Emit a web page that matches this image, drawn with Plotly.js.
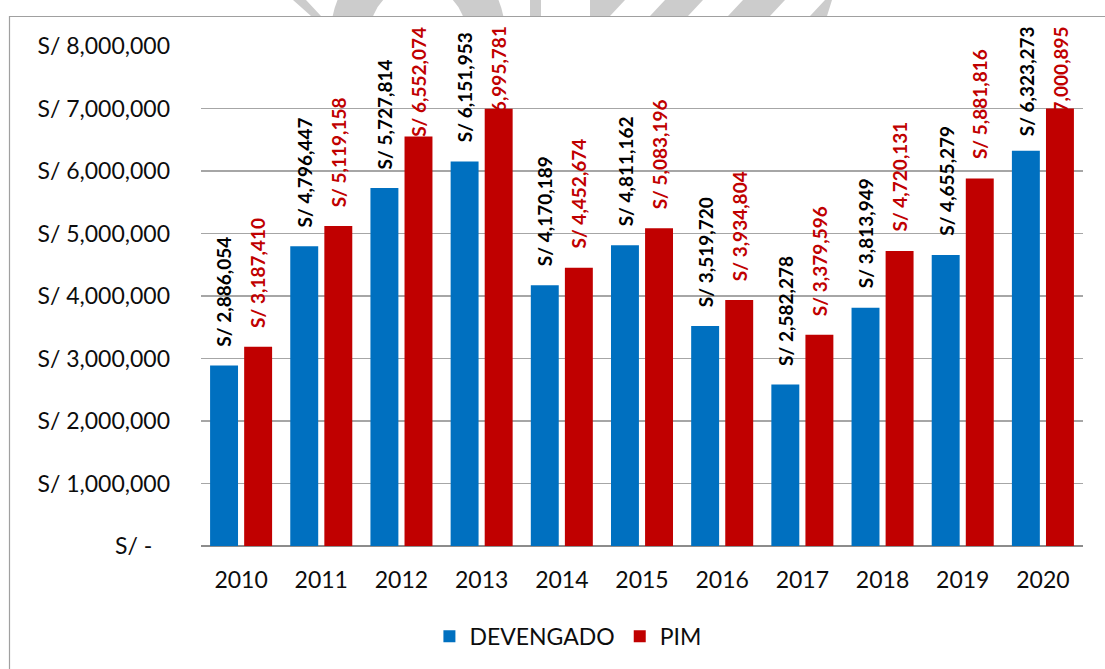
<!DOCTYPE html>
<html>
<head>
<meta charset="utf-8">
<script src="https://cdn.plot.ly/plotly-3.0.1.min.js"></script>
<style>
  html, body { margin: 0; padding: 0; background: #ffffff; }
  #wrap { position: relative; width: 1105px; height: 669px; overflow: hidden; }
  #deco { position: absolute; left: 0; top: 0; }
  #chart { position: absolute; left: 0; top: 0; width: 1105px; height: 669px; }
</style>
</head>
<body>
<div id="wrap">
  <svg id="deco" width="1105" height="669" xmlns="http://www.w3.org/2000/svg">
    <defs>
      <clipPath id="topclip"><rect x="0" y="0" width="1105" height="16"/></clipPath>
    </defs>
    <g clip-path="url(#topclip)" fill="#cccccc">
      <polygon points="293,0 306,0 321,16 311,16"/>
      <path fill-rule="evenodd" d="M 331,33 a 87,87 0 1,0 174,0 a 87,87 0 1,0 -174,0 Z M 370,33 a 48,48 0 1,0 96,0 a 48,48 0 1,0 -96,0 Z"/>
      <rect x="530" y="0" width="11" height="16"/>
      <polygon points="590,0 625,0 610,16 590,16"/>
      <polygon points="665,0 703,0 688,16 650,16"/>
      <polygon points="743,0 785,0 770,16 728,16"/>
      <polygon points="825,0 832,0 827,16 810,16"/>
    </g>
    <line x1="9" y1="16.5" x2="1105" y2="16.5" stroke="#a0a0a0" stroke-width="1.2"/>
    <line x1="9.5" y1="16" x2="9.5" y2="669" stroke="#a0a0a0" stroke-width="1.2"/>
  </svg>
  <div id="chart"></div>
</div>
<script>
// ---- data ----
const years = ["2010","2011","2012","2013","2014","2015","2016","2017","2018","2019","2020"];
const devengado = [2886054, 4796447, 5727814, 6151953, 4170189, 4811162, 3519720, 2582278, 3813949, 4655279, 6323273];
const pim = [3187410, 5119158, 6552074, 6995781, 4452674, 5083196, 3934804, 3379596, 4720131, 5881816, 7000895];
const tickVals = [0, 1000000, 2000000, 3000000, 4000000, 5000000, 6000000, 7000000, 8000000];
const tickText = ["S/ -\u00a0\u00a0\u00a0", "S/ 1,000,000", "S/ 2,000,000", "S/ 3,000,000", "S/ 4,000,000",
                  "S/ 5,000,000", "S/ 6,000,000", "S/ 7,000,000", "S/ 8,000,000"];
const seriesNames = ["DEVENGADO", "PIM"];

// ---- styles ----
const BLUE = "#0070C0";
const RED = "#C00000";
const FONT = "Lato, 'Open Sans', sans-serif";
const LABEL_CAP = 6250000;   // Excel keeps labels inside the chart area
const LABEL_OFFSET = 17;     // px, half a bar slot

function fmt(v) { return "S/ " + v.toLocaleString("en-US"); }

const traces = [
  { type: "bar", name: seriesNames[0], x: years, y: devengado, marker: { color: BLUE }, hoverinfo: "none" },
  { type: "bar", name: seriesNames[1], x: years, y: pim, marker: { color: RED }, hoverinfo: "none" }
];

const annotations = [];
years.forEach((yr, i) => {
  [[devengado, "#000000", -LABEL_OFFSET], [pim, RED, LABEL_OFFSET]].forEach(([arr, col, dx]) => {
    annotations.push({
      x: i, y: Math.min(arr[i], LABEL_CAP), xref: "x", yref: "y",
      text: "<b>" + fmt(arr[i]) + "</b>",
      textangle: -90, showarrow: false,
      xanchor: "center", yanchor: "bottom",
      xshift: dx, yshift: 17,
      font: { family: FONT, size: 19, color: col, weight: "bold" }
    });
  });
});

const layout = {
  width: 1105, height: 669,
  margin: { l: 201, r: 22, t: 46, b: 122, pad: 0 },
  paper_bgcolor: "rgba(0,0,0,0)",
  plot_bgcolor: "rgba(0,0,0,0)",
  barmode: "group",
  bargap: 0.15,
  bargroupgap: 0.18,
  font: { family: FONT, size: 23, color: "#0d0d0d" },
  xaxis: {
    type: "category",
    showgrid: false, zeroline: false, showline: false,
    ticks: "", ticklabelstandoff: 18,
    tickfont: { family: FONT, size: 23, color: "#0d0d0d" }
  },
  yaxis: {
    range: [0, 8000000],
    tickmode: "array", tickvals: tickVals, ticktext: tickText,
    showgrid: true, gridcolor: "#a6a6a6", gridwidth: 1.3,
    zeroline: true, zerolinecolor: "#8c8c8c", zerolinewidth: 1.5,
    showline: false, ticks: "", ticklabelstandoff: 30,
    tickfont: { family: FONT, size: 23, color: "#0d0d0d" }
  },
  showlegend: true,
  legend: {
    orientation: "h", x: 0.416, xanchor: "center", y: -0.178, yanchor: "middle",
    font: { family: FONT, size: 23, color: "#0d0d0d" },
    itemclick: false, itemdoubleclick: false
  },
  annotations: annotations
};

Plotly.newPlot("chart", traces, layout, { displayModeBar: false, staticPlot: true });
</script>
</body>
</html>
